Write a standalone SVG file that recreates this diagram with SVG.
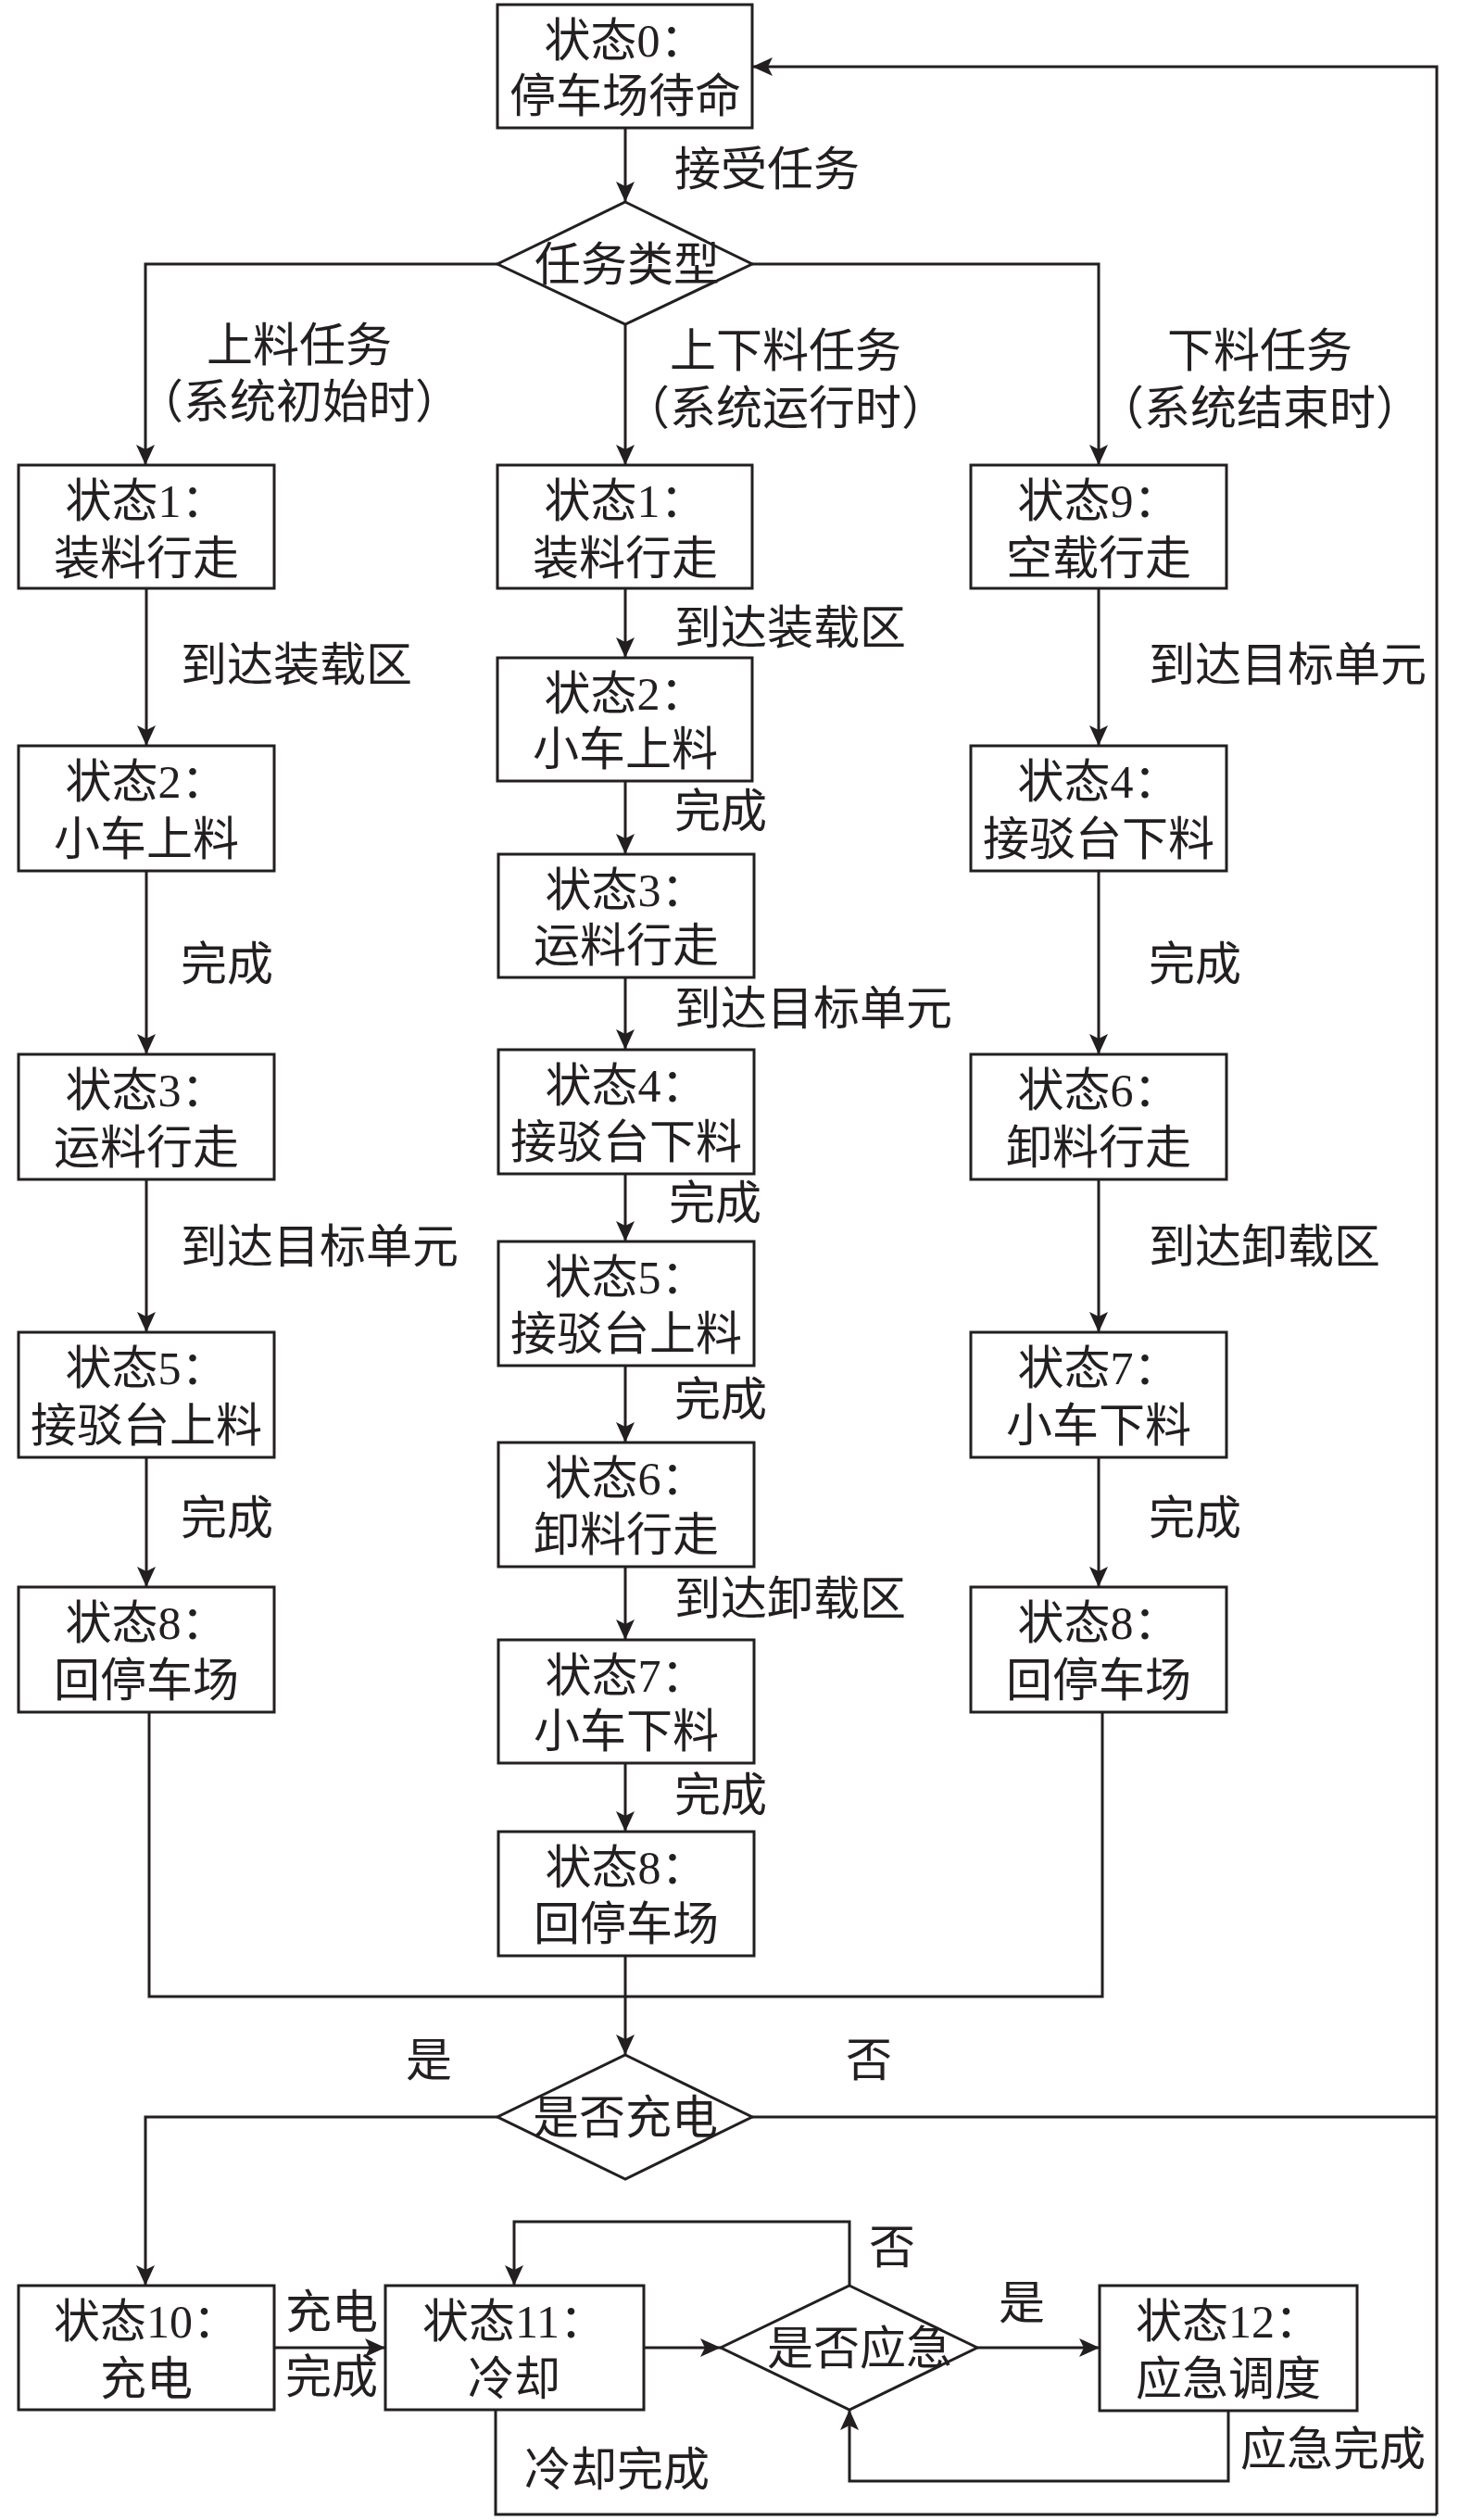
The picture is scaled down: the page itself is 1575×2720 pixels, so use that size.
<svg xmlns="http://www.w3.org/2000/svg" width="1575" height="2720" viewBox="0 0 1575 2720">
<style>
.b{fill:#fff;stroke:#231f20;stroke-width:3}
.t{font-family:"Liberation Serif","Noto Sans CJK SC",serif;font-size:50px;fill:#231f20;text-anchor:middle}
.l{font-family:"Liberation Serif","Noto Sans CJK SC",serif;font-size:50px;fill:#231f20}
.c{fill:none;stroke:#231f20;stroke-width:3}
.a{fill:none;stroke:#231f20;stroke-width:3;marker-end:url(#ah)}
</style>
<defs>
<marker id="ah" markerUnits="userSpaceOnUse" markerWidth="24" markerHeight="22" refX="22" refY="10" orient="auto">
<path d="M0,0 L22,10 L0,20 L5,10 z" fill="#231f20"/>
</marker>
</defs>
<rect width="1575" height="2720" fill="#fff"/>
<g id="connectors">
<path class="a" d="M675,138 V218"/>
<path class="a" d="M537,285 H157 V502"/>
<path class="a" d="M812,285 H1186 V502"/>
<path class="a" d="M675,350 V502"/>
<path class="a" d="M158,635 V805"/>
<path class="a" d="M158,940 V1138"/>
<path class="a" d="M158,1273 V1438"/>
<path class="a" d="M158,1573 V1713"/>
<path class="a" d="M1186,635 V805"/>
<path class="a" d="M1186,940 V1138"/>
<path class="a" d="M1186,1273 V1438"/>
<path class="a" d="M1186,1573 V1713"/>
<path class="a" d="M675,635 V710"/>
<path class="a" d="M675,843 V922"/>
<path class="a" d="M675,1055 V1133"/>
<path class="a" d="M675,1267 V1340"/>
<path class="a" d="M675,1474 V1557"/>
<path class="a" d="M675,1691 V1770"/>
<path class="a" d="M675,1903 V1977"/>
<path class="c" d="M161,1848 V2155 H1190 V1848"/>
<path class="a" d="M675,2111 V2218"/>
<path class="a" d="M537,2285 H157 V2467"/>
<path class="c" d="M812,2285 H1551"/>
<path class="a" d="M1551,2714 V72 H812"/>
<path class="a" d="M296,2534 H416"/>
<path class="a" d="M695,2534 H778"/>
<path class="a" d="M1055,2534 H1187"/>
<path class="a" d="M917,2467 V2398 H555 V2467"/>
<path class="a" d="M1326,2602 V2678 H917 V2601"/>
<path class="c" d="M535,2601 V2714 H1551"/>
</g>
<g id="labels">
<text class="l" x="728" y="200">接受任务</text>
<text class="t" x="323" y="390">上料任务</text>
<text class="t" x="323" y="451">（系统初始时）</text>
<text class="t" x="848" y="396">上下料任务</text>
<text class="t" x="848" y="458">（系统运行时）</text>
<text class="t" x="1360" y="396">下料任务</text>
<text class="t" x="1360" y="458">（系统结束时）</text>
<text class="l" x="195" y="735">到达装载区</text>
<text class="l" x="195" y="1058">完成</text>
<text class="l" x="195" y="1363">到达目标单元</text>
<text class="l" x="195" y="1656">完成</text>
<text class="l" x="1240" y="735">到达目标单元</text>
<text class="l" x="1240" y="1058">完成</text>
<text class="l" x="1240" y="1363">到达卸载区</text>
<text class="l" x="1240" y="1656">完成</text>
<text class="l" x="728" y="695">到达装载区</text>
<text class="l" x="728" y="893">完成</text>
<text class="l" x="728" y="1106">到达目标单元</text>
<text class="l" x="722" y="1316">完成</text>
<text class="l" x="728" y="1528">完成</text>
<text class="l" x="728" y="1743">到达卸载区</text>
<text class="l" x="728" y="1955">完成</text>
<text class="t" x="463" y="2241">是</text>
<text class="t" x="938" y="2241">否</text>
<text class="l" x="308" y="2513">充电</text>
<text class="l" x="308" y="2583">完成</text>
<text class="t" x="963" y="2443">否</text>
<text class="t" x="1103" y="2503">是</text>
<text class="l" x="1339" y="2661">应急完成</text>
<text class="l" x="566" y="2683">冷却完成</text>
</g>
<g id="s0"><rect class="b" x="537" y="5" width="275" height="133"/><text class="t" x="675" y="61">状态0：</text><text class="t" x="675" y="121">停车场待命</text></g>
<g id="d1"><polygon class="b" points="675,218 812,285 675,350 537,285"/><text class="t" x="677" y="303">任务类型</text></g>
<g id="L1"><rect class="b" x="20" y="502" width="276" height="133"/><text class="t" x="158" y="558">状态1：</text><text class="t" x="158" y="620">装料行走</text></g>
<g id="L2"><rect class="b" x="20" y="805" width="276" height="135"/><text class="t" x="158" y="861">状态2：</text><text class="t" x="158" y="923">小车上料</text></g>
<g id="L3"><rect class="b" x="20" y="1138" width="276" height="135"/><text class="t" x="158" y="1194">状态3：</text><text class="t" x="158" y="1256">运料行走</text></g>
<g id="L5"><rect class="b" x="20" y="1438" width="276" height="135"/><text class="t" x="158" y="1494">状态5：</text><text class="t" x="158" y="1556">接驳台上料</text></g>
<g id="L8"><rect class="b" x="20" y="1713" width="276" height="135"/><text class="t" x="158" y="1769">状态8：</text><text class="t" x="158" y="1831">回停车场</text></g>
<g id="M1"><rect class="b" x="537" y="502" width="275" height="133"/><text class="t" x="675" y="558">状态1：</text><text class="t" x="675" y="620">装料行走</text></g>
<g id="M2"><rect class="b" x="537" y="710" width="275" height="133"/><text class="t" x="675" y="766">状态2：</text><text class="t" x="675" y="826">小车上料</text></g>
<g id="M3"><rect class="b" x="538" y="922" width="276" height="133"/><text class="t" x="676" y="978">状态3：</text><text class="t" x="676" y="1038">运料行走</text></g>
<g id="M4"><rect class="b" x="538" y="1133" width="276" height="134"/><text class="t" x="676" y="1189">状态4：</text><text class="t" x="676" y="1250">接驳台下料</text></g>
<g id="M5"><rect class="b" x="538" y="1340" width="276" height="134"/><text class="t" x="676" y="1396">状态5：</text><text class="t" x="676" y="1457">接驳台上料</text></g>
<g id="M6"><rect class="b" x="538" y="1557" width="276" height="134"/><text class="t" x="676" y="1613">状态6：</text><text class="t" x="676" y="1674">卸料行走</text></g>
<g id="M7"><rect class="b" x="538" y="1770" width="276" height="133"/><text class="t" x="676" y="1826">状态7：</text><text class="t" x="676" y="1886">小车下料</text></g>
<g id="M8"><rect class="b" x="538" y="1977" width="276" height="134"/><text class="t" x="676" y="2033">状态8：</text><text class="t" x="676" y="2094">回停车场</text></g>
<g id="R9"><rect class="b" x="1048" y="502" width="276" height="133"/><text class="t" x="1186" y="558">状态9：</text><text class="t" x="1186" y="620">空载行走</text></g>
<g id="R4"><rect class="b" x="1048" y="805" width="276" height="135"/><text class="t" x="1186" y="861">状态4：</text><text class="t" x="1186" y="923">接驳台下料</text></g>
<g id="R6"><rect class="b" x="1048" y="1138" width="276" height="135"/><text class="t" x="1186" y="1194">状态6：</text><text class="t" x="1186" y="1256">卸料行走</text></g>
<g id="R7"><rect class="b" x="1048" y="1438" width="276" height="135"/><text class="t" x="1186" y="1494">状态7：</text><text class="t" x="1186" y="1556">小车下料</text></g>
<g id="R8"><rect class="b" x="1048" y="1713" width="276" height="135"/><text class="t" x="1186" y="1769">状态8：</text><text class="t" x="1186" y="1831">回停车场</text></g>
<g id="d2"><polygon class="b" points="675,2218 812,2285 675,2352 537,2285"/><text class="t" x="675" y="2303">是否充电</text></g>
<g id="s10"><rect class="b" x="20" y="2467" width="276" height="134"/><text class="t" x="158" y="2523">状态10：</text><text class="t" x="158" y="2585">充电</text></g>
<g id="s11"><rect class="b" x="416" y="2467" width="279" height="134"/><text class="t" x="555" y="2523">状态11：</text><text class="t" x="555" y="2585">冷却</text></g>
<g id="d3"><polygon class="b" points="917,2467 1055,2534 917,2601 778,2534"/><text class="t" x="928" y="2552">是否应急</text></g>
<g id="s12"><rect class="b" x="1187" y="2467" width="278" height="135"/><text class="t" x="1326" y="2523">状态12：</text><text class="t" x="1326" y="2585">应急调度</text></g>
</svg>
